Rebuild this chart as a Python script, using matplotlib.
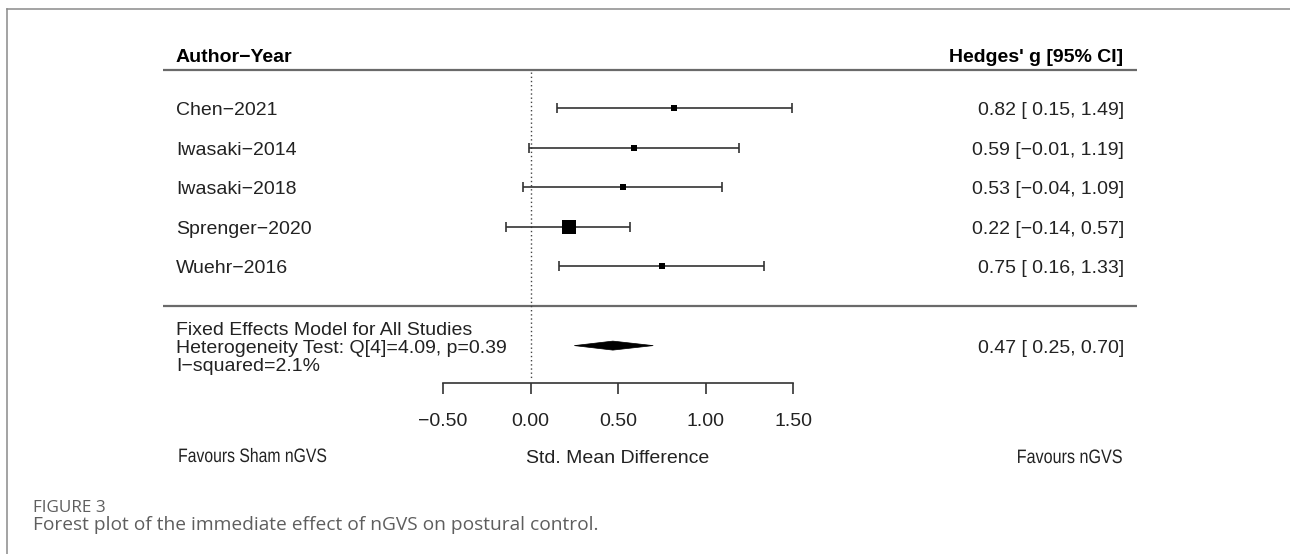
import matplotlib
matplotlib.use("Agg")
import matplotlib.pyplot as plt
from matplotlib.patches import Polygon
from matplotlib.lines import Line2D
from matplotlib.patheffects import AbstractPathEffect
from matplotlib.transforms import Affine2D

# ---------------- data ----------------
studies = ["Chen\u22122021", "Iwasaki\u22122014", "Iwasaki\u22122018",
           "Sprenger\u22122020", "Wuehr\u22122016"]
hedges_g = [0.82, 0.59, 0.53, 0.22, 0.75]
ci_low = [0.15, -0.01, -0.04, -0.14, 0.16]
ci_high = [1.49, 1.19, 1.09, 0.57, 1.33]
pooled_g = 0.47
pooled_low = 0.25
pooled_high = 0.70
summary_lines = ["Fixed Effects Model for All Studies",
                 "Heterogeneity Test: Q[4]=4.09, p=0.39",
                 "I\u2212squared=2.1%"]
x_ticks = [-0.50, 0.00, 0.50, 1.00, 1.50]
header_left = "Author\u2212Year"
header_right = "Hedges' g [95% CI]"
x_label = "Std. Mean Difference"
favours_left = "Favours Sham nGVS"
favours_right = "Favours nGVS"
fig_label = "FIGURE 3"
caption = "Forest plot of the immediate effect of nGVS on postural control."

# ---------------- layout (pixels) ----------------
W, H = 1290, 554
X0, UNIT = 530.5, 175.3      # pixel of x=0, pixels per unit
Y0, ROW = 108.0, 39.6        # pixel of first row, pixels per row
BASE = 7.0                   # baseline offset below row centre
LINE = 18.0                  # line spacing of summary text


def px_x(p):
    return (p - X0) / UNIT


def px_y(p):
    return (p - Y0) / ROW


def fmt_num(v, pad=False):
    s = f"{abs(v):.2f}"
    if v < 0:
        return "\u2212" + s
    return (" " + s) if pad else s


class HStretch(AbstractPathEffect):
    """Condense text horizontally about its own centre."""

    def __init__(self, sx):
        super().__init__()
        self.sx = sx

    def draw_path(self, renderer, gc, tpath, affine, rgbFace=None):
        bb = tpath.get_extents(affine)
        cx = 0.5 * (bb.x0 + bb.x1)
        new = affine + Affine2D().translate(-cx, 0).scale(self.sx, 1).translate(cx, 0)
        renderer.draw_path(gc, tpath, new, rgbFace)


MAIN = "Liberation Sans"
CAP_FONT = "Open Sans"

fig = plt.figure(figsize=(W / 100, H / 100), dpi=100)
ax = fig.add_axes([0, 0, 1, 1])
ax.set_xlim(px_x(0), px_x(W))
ax.set_ylim(px_y(H), px_y(0))
ax.patch.set_alpha(0)

ink = "#222222"
rule = "#6a6a6a"
n = len(studies)
rows = list(range(n))

# header
ax.text(px_x(176), px_y(62), header_left, family=MAIN, weight="bold",
        fontsize=14, ha="left", va="baseline", color="black")
ax.text(px_x(1123), px_y(62), header_right, family=MAIN, weight="bold",
        fontsize=14, ha="right", va="baseline", color="black")
ax.plot([px_x(163), px_x(1137)], [px_y(70), px_y(70)], color=rule, lw=1.6,
        solid_capstyle="butt")
sep_y = n
ax.plot([px_x(163), px_x(1137)], [sep_y, sep_y], color=rule, lw=1.6,
        solid_capstyle="butt")

# reference line
ax.plot([0, 0], [px_y(72), px_y(378)], color="#444444", lw=1.0,
        ls=(0, (1, 2)))

# study rows: square size grows with inverse-variance weight
se = [(h - l) / (2 * 1.96) for l, h in zip(ci_low, ci_high)]
w = [1 / s ** 2 for s in se]
wmin, wmax = min(w), max(w)
sizes_px = [5.5 + 8.5 * (wi - wmin) / (wmax - wmin) for wi in w]

for i, (lab, g, lo, hi) in enumerate(zip(studies, hedges_g, ci_low, ci_high)):
    y = rows[i]
    ax.errorbar([g], [y], xerr=[[g - lo], [hi - g]], fmt="none",
                ecolor="#333333", elinewidth=1.2, capsize=3.6, capthick=1.2)
    ax.plot([g], [y], marker="s", ms=sizes_px[i] * 0.72, color="black",
            mec="black", mew=0, ls="none")
    ax.text(px_x(176), y + BASE / ROW, lab, family=MAIN, fontsize=14,
            ha="left", va="baseline", color=ink)
    ax.text(px_x(1124), y + BASE / ROW,
            f"{g:.2f} [{fmt_num(lo, True)}, {fmt_num(hi)}]",
            family=MAIN, fontsize=14, ha="right", va="baseline", color=ink)

# summary
sum_y = n + 1
dh = 4.5 / ROW
ax.add_patch(Polygon([(pooled_low, sum_y), (pooled_g, sum_y - dh),
                      (pooled_high, sum_y), (pooled_g, sum_y + dh)],
                     closed=True, facecolor="black", edgecolor="black", lw=0.5))
ax.text(px_x(1124), sum_y + BASE / ROW,
        f"{pooled_g:.2f} [{fmt_num(pooled_low, True)}, {fmt_num(pooled_high)}]",
        family=MAIN, fontsize=14, ha="right", va="baseline", color=ink)
for k, line in enumerate(summary_lines):
    ax.text(px_x(176), sum_y + (k - 1) * LINE / ROW + BASE / ROW, line,
            family=MAIN, fontsize=14, ha="left", va="baseline", color=ink)

# x axis
for s in ["top", "left", "right"]:
    ax.spines[s].set_visible(False)
ax.spines["bottom"].set_position(("data", px_y(383)))
ax.spines["bottom"].set_bounds(x_ticks[0], x_ticks[-1])
ax.spines["bottom"].set_color("#333333")
ax.spines["bottom"].set_linewidth(1.2)
ax.set_xticks(x_ticks)
ax.set_xticklabels([fmt_num(t) for t in x_ticks])
ax.tick_params(axis="x", direction="out", length=7.9, width=1.2,
               color="#333333", labelsize=14, pad=13.5, labelcolor=ink)
for t in ax.get_xticklabels():
    t.set_family(MAIN)
ax.set_yticks([])

ax.text(px_x(618), px_y(463), x_label, family=MAIN, fontsize=14,
        ha="center", va="baseline", color=ink)
ax.text(px_x(253), px_y(462), favours_left, family=MAIN, fontsize=14,
        ha="center", va="baseline", color=ink, path_effects=[HStretch(0.81)])
ax.text(px_x(1070), px_y(463), favours_right, family=MAIN, fontsize=14,
        ha="center", va="baseline", color=ink, path_effects=[HStretch(0.83)])


# frame and caption (figure pixel coordinates)
def fx(p):
    return p / W


def fy(p):
    return 1 - p / H


fig.add_artist(Line2D([fx(7), fx(W)], [fy(8.5), fy(8.5)],
                      transform=fig.transFigure, color="#8a8a8a", lw=1.1))
fig.add_artist(Line2D([fx(7), fx(7)], [fy(8.5), fy(H)],
                      transform=fig.transFigure, color="#8a8a8a", lw=1.1))
fig.text(fx(33), fy(511.5), fig_label, family=CAP_FONT, fontsize=12.3,
         color="#5e5e5e", ha="left", va="baseline")
fig.text(fx(33), fy(530), caption, family=CAP_FONT, fontsize=13.8,
         color="#5e5e5e", ha="left", va="baseline")

fig.savefig("out.png", dpi=100)
